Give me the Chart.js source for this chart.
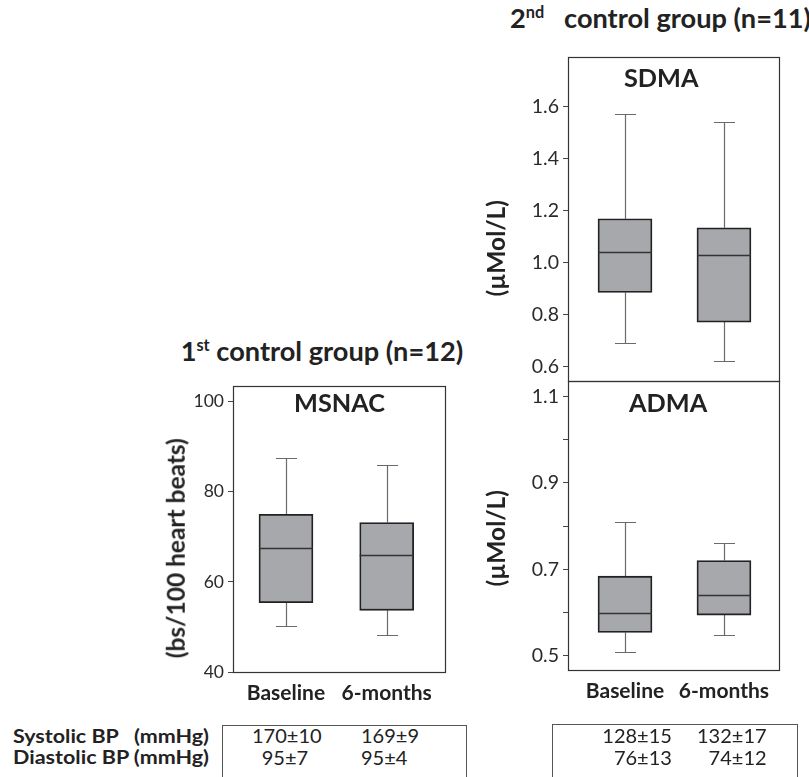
<!DOCTYPE html>
<html><head><meta charset="utf-8">
<script src="https://cdn.jsdelivr.net/npm/chart.js@4.4.1/dist/chart.umd.min.js"></script>
<style>
html,body{margin:0;padding:0;background:#fff;}
body{width:809px;height:777px;overflow:hidden;position:relative;font-family:Lato,sans-serif;color:#222;}
.t{position:absolute;white-space:pre;line-height:1;left:0;top:0;}
.t sup{font-size:0.6em;vertical-align:0.62em;line-height:0;}
canvas{position:absolute;}
.box{position:absolute;border:1px solid #555;border-bottom:none;}
</style></head><body>
<div class="box" style="left:222px;top:725px;width:243px;height:80px"></div>
<div class="box" style="left:552px;top:724px;width:244px;height:80px"></div>
<script>
// ---- data ----
const categories = ['Baseline', '6-months'];

const msnacMin    = [50.2, 48.3];
const msnacQ1     = [55.4, 53.7];
const msnacMedian = [67.6, 65.9];
const msnacQ3     = [75.0, 73.2];
const msnacMax    = [87.6, 85.9];

const sdmaMin    = [0.690, 0.619];
const sdmaQ1     = [0.884, 0.770];
const sdmaMedian = [1.039, 1.029];
const sdmaQ3     = [1.168, 1.133];
const sdmaMax    = [1.571, 1.540];

const admaMin    = [0.509, 0.549];
const admaQ1     = [0.554, 0.594];
const admaMedian = [0.599, 0.640];
const admaQ3     = [0.684, 0.720];
const admaMax    = [0.810, 0.760];

const msnacTicks = [40, 60, 80, 100];
const sdmaTicks = [0.6, 0.8, 1.0, 1.2, 1.4, 1.6];
const admaTicks = [0.5, 0.6, 0.7, 0.8, 0.9, 1.0, 1.1];
const admaLabelledTicks = [0.5, 0.7, 0.9, 1.1];

const bpRows = ['Systolic BP   (mmHg)', 'Diastolic BP (mmHg)'];
const bp1Baseline = ['170±10', '95±7'];
const bp1Six      = ['169±9', '95±4'];
const bp2Baseline = ['128±15', '76±13'];
const bp2Six      = ['132±17', '74±12'];

// ---- box plot plugin ----
function boxPlugin(st) {
  return {
    id: 'boxplot',
    beforeDatasetsDraw(chart) {
      const {ctx, scales: {y}} = chart;
      const meta = chart.getDatasetMeta(0);
      ctx.save();
      ctx.strokeStyle = '#6a6a6a'; ctx.lineWidth = 1.2;
      categories.forEach((c, i) => {
        const cx = Math.round(meta.data[i].x) + 0.5;
        const cap = 10.5;
        const yMax = Math.round(y.getPixelForValue(st.max[i])) + 0.5;
        const yMin = Math.round(y.getPixelForValue(st.min[i])) + 0.5;
        const yQ3 = y.getPixelForValue(st.q3[i]);
        const yQ1 = y.getPixelForValue(st.q1[i]);
        ctx.beginPath();
        ctx.moveTo(cx, yQ3); ctx.lineTo(cx, yMax);
        ctx.moveTo(cx - cap, yMax); ctx.lineTo(cx + cap, yMax);
        ctx.moveTo(cx, yQ1); ctx.lineTo(cx, yMin);
        ctx.moveTo(cx - cap, yMin); ctx.lineTo(cx + cap, yMin);
        ctx.stroke();
      });
      ctx.restore();
    },
    afterDatasetsDraw(chart) {
      const {ctx, chartArea: a, scales: {y}} = chart;
      const meta = chart.getDatasetMeta(0);
      ctx.save();
      ctx.strokeStyle = '#333'; ctx.lineWidth = 1.6;
      categories.forEach((c, i) => {
        const b = meta.data[i];
        const ym = Math.round(y.getPixelForValue(st.median[i])) + 0.5;
        ctx.beginPath();
        ctx.moveTo(b.x - b.width / 2, ym); ctx.lineTo(b.x + b.width / 2, ym);
        ctx.stroke();
      });
      ctx.strokeStyle = '#333'; ctx.lineWidth = 1.2;
      const l = Math.round(a.left) + 0.5, t = Math.round(a.top) + 0.5;
      const r = Math.round(a.right) + 0.5, bt = Math.round(a.bottom) + 0.5;
      ctx.strokeRect(l, t, r - l, bt - t);
      ctx.restore();
    }
  };
}

function makeBox(cfg) {
  const cv = document.createElement('canvas');
  cv.width = cfg.width; cv.height = cfg.height;
  cv.style.left = cfg.left + 'px'; cv.style.top = cfg.top + 'px';
  document.body.appendChild(cv);
  const st = cfg.stats;
  new Chart(cv, {
    type: 'bar',
    data: {
      datasets: [{
        data: categories.map((c, i) => ({x: i, y: [st.q1[i], st.q3[i]]})),
        backgroundColor: '#a7a8ab', borderColor: '#222', borderWidth: 1.8,
        borderSkipped: false, barThickness: 54
      }]
    },
    options: {
      responsive: false, animation: false, events: [],
      layout: {padding: {top: cfg.padTop, bottom: cfg.padBottom, left: 0, right: cfg.padRight}},
      plugins: {legend: {display: false}, tooltip: {enabled: false}, title: {display: false}},
      scales: {
        x: {
          type: 'linear', min: cfg.xMin, max: cfg.xMax, offset: false,
          afterBuildTicks(s) { s.ticks = categories.map((c, i) => ({value: i})); },
          ticks: {display: cfg.showX, autoSkip: false, maxRotation: 0,
            callback: (v) => categories[Math.round(v)],
            font: {family: 'Lato', size: 21, weight: 'bold'}, color: '#222', padding: cfg.xPad},
          grid: {display: false, drawTicks: false}, border: {display: false},
          afterFit(s) { s.height = cfg.xAxisH; s.paddingLeft = 0; s.paddingRight = 0; s.paddingTop = 0; s.paddingBottom = 0; }
        },
        y: {
          type: 'linear', min: cfg.yMin, max: cfg.yMax,
          afterBuildTicks(s) { s.ticks = cfg.ticks.map(v => ({value: v})); },
          ticks: {autoSkip: false, callback: cfg.labelFn, font: {family: 'Lato', size: cfg.tickSize}, color: '#2a2a2a', padding: 4},
          grid: {display: true, drawOnChartArea: false, drawTicks: true, tickLength: 5, color: '#444', lineWidth: 1},
          border: {display: false},
          afterFit(s) { s.width = cfg.yAxisW; s.paddingTop = 0; s.paddingBottom = 0; s.paddingLeft = 0; s.paddingRight = 0; }
        }
      }
    },
    plugins: [boxPlugin(st)]
  });
}

makeBox({left: 150, top: 374, width: 300, height: 338, yAxisW: 83, padTop: 12, padRight: 5, padBottom: 0,
  xAxisH: 40, xPad: 9, showX: true, xMin: -0.526, xMax: 1.579, yMin: 40, yMax: 103.5, tickSize: 17.5,
  ticks: msnacTicks, labelFn: v => String(v),
  stats: {min: msnacMin, q1: msnacQ1, median: msnacMedian, q3: msnacQ3, max: msnacMax}});

makeBox({left: 480, top: 45, width: 305, height: 346, yAxisW: 88, padTop: 12, padRight: 6, padBottom: 10,
  xAxisH: 0, xPad: 0, showX: false, xMin: -0.576, xMax: 1.556, yMin: 0.5433, yMax: 1.7905, tickSize: 19.5,
  ticks: sdmaTicks, labelFn: v => v.toFixed(1),
  stats: {min: sdmaMin, q1: sdmaQ1, median: sdmaMedian, q3: sdmaQ3, max: sdmaMax}});

makeBox({left: 480, top: 369, width: 305, height: 341, yAxisW: 88, padTop: 12, padRight: 6, padBottom: 0,
  xAxisH: 40, xPad: 9, showX: true, xMin: -0.576, xMax: 1.556, yMin: 0.467, yMax: 1.1354, tickSize: 19.5,
  ticks: admaTicks, labelFn: v => admaLabelledTicks.some(t => Math.abs(t - v) < 1e-9) ? v.toFixed(1) : '',
  stats: {min: admaMin, q1: admaQ1, median: admaMedian, q3: admaQ3, max: admaMax}});

// ---- text ----
function mk(html, weight) {
  const el = document.createElement('div');
  el.className = 't';
  el.style.fontWeight = weight;
  el.style.fontSize = '100px';
  el.innerHTML = html;
  document.body.appendChild(el);
  const w = el.getBoundingClientRect().width;
  return {el, w};
}
function size(o, s) { o.el.style.fontSize = s + 'px'; o.s = s; o.W = o.w * s / 100; }
function squeeze(o, width) {
  const k = width / o.W;
  o.el.style.transformOrigin = '0 0';
  o.el.style.transform = 'scaleX(' + k + ')';
  o.W = width;
}
function at(o, left, baseline) { o.el.style.left = left + 'px'; o.el.style.top = (baseline - 0.887 * o.s) + 'px'; }
function atRight(o, right, baseline) { at(o, right - o.W, baseline); }
function rot(o, cx, cy) {
  o.el.style.left = (cx - o.W / 2 - 0.09 * o.s) + 'px';
  o.el.style.top = (cy - o.s / 2) + 'px';
  o.el.style.transformOrigin = (o.W / 2) + 'px ' + (o.s / 2) + 'px';
  o.el.style.transform = 'rotate(-90deg)';
}

const t1 = mk('1<sup>st</sup> control group (n=12)', 700);
const t2 = mk('2<sup>nd</sup>   control group (n=11)', 700);
const ts = 282.6 / t1.w * 100;
size(t1, ts); size(t2, ts);
at(t1, 180.7, 361.5); at(t2, 510, 28);

const p1 = mk('MSNAC', 700), p2 = mk('SDMA', 700), p3 = mk('ADMA', 700);
const ps = 91 / p1.w * 100;
[p1, p2, p3].forEach(p => size(p, ps));
at(p1, 294, 412.7); at(p2, 624, 87.3); at(p3, 629, 412.7);

const a1 = mk('(bs/100 heart beats)', 700), a2 = mk('(µMol/L)', 700), a3 = mk('(µMol/L)', 700);
const as = 220 / a1.w * 100;
[a1, a2, a3].forEach(p => size(p, as));
rot(a1, 178.5, 548); rot(a2, 498.5, 248); rot(a3, 498.5, 538);

const rowBase = [743, 764.3];
const rl = bpRows.map(r => mk(r, 700));
rl.forEach((o, i) => { size(o, 18); squeeze(o, 196); at(o, 13, rowBase[i]); });

const v0 = mk(bp1Baseline[0], 400);
const vs = 69.7 / v0.w * 100;
size(v0, vs); at(v0, 252, rowBase[0]);
const v1 = mk(bp1Baseline[1], 400); size(v1, vs); at(v1, 285 - v1.W / 2, rowBase[1]);
bp1Six.forEach((s, i) => { const o = mk(s, 400); size(o, vs); at(o, 361, rowBase[i]); });
bp2Baseline.forEach((s, i) => { const o = mk(s, 400); size(o, vs); atRight(o, 672, rowBase[i]); });
bp2Six.forEach((s, i) => { const o = mk(s, 400); size(o, vs); atRight(o, 766.7, rowBase[i]); });
</script>
</body></html>
